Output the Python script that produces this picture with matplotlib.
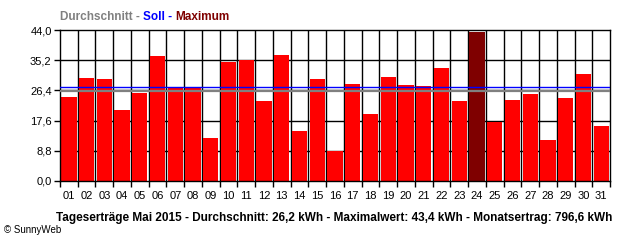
import numpy as np
import matplotlib.pyplot as plt

days = ["%02d" % d for d in range(1, 32)]
ertrag = [24.4, 30.0, 29.7, 20.6, 25.7, 36.5, 27.3, 27.0, 12.4, 34.7,
          35.2, 23.2, 36.7, 14.5, 29.7, 8.6, 28.2, 19.5, 30.3, 27.9,
          27.6, 32.9, 23.2, 43.4, 17.2, 23.5, 25.4, 12.0, 24.1, 31.1, 16.0]
durchschnitt = 26.2
soll = 27.4
yticks = [0.0, 8.8, 17.6, 26.4, 35.2, 44.0]

plt.rcParams['font.family'] = ['Liberation Sans', 'DejaVu Sans']

fig = plt.figure(figsize=(6.4, 2.4), dpi=100)
ax = fig.add_axes([60 / 640, 1 - 181 / 240, 550 / 640, 151 / 240])

x = np.arange(1, 32)
colors = ['#ff0000'] * 31
colors[int(np.argmax(ertrag))] = '#7f0000'
ax.set_axisbelow(True)
ax.bar(x, ertrag, width=0.86, color=colors, zorder=2)
ax.axhline(soll, color='#0000ff', lw=1.0, zorder=3)
ax.axhline(durchschnitt, color='#808080', lw=1.6, zorder=3)

ax.set_xlim(0.5, 31.5)
ax.set_ylim(0, 44)
ax.set_yticks(yticks)
ax.set_yticklabels([("%.1f" % v).replace('.', ',') for v in yticks], fontsize=8)
ax.set_xticks(x)
ax.set_xticklabels(days, fontsize=8)
ax.tick_params(axis='x', length=0, pad=7)
ax.set_xticks(np.arange(0.5, 32, 1), minor=True)
ax.tick_params(axis='x', which='minor', length=4, width=1, direction='out', color='black')
ax.tick_params(axis='y', length=4, width=1, direction='out', pad=2)
for v in np.arange(1.5, 31.5, 1):
    ax.axvline(v, color='black', lw=1, zorder=1)
for v in yticks[1:-1]:
    ax.axhline(v, color='black', lw=1, zorder=1)
for s in ax.spines.values():
    s.set_color('black')
    s.set_linewidth(1)

# legend line at the top, pieces placed one after another
renderer = fig.canvas.get_renderer()
xpos = 60
pieces = [("Durchschnitt - ", '#808080'), ("Soll - ", '#0000ff'), ("Maximum", '#7f0000')]
for txt, col in pieces:
    t = fig.text(xpos / 640, 1 - 17 / 240, txt, color=col, fontsize=8.5,
                 fontweight='bold', va='center')
    xpos += t.get_window_extent(renderer).width

fig.text(334 / 640, 1 - 218 / 240,
         "Tageserträge Mai 2015 - Durchschnitt: 26,2 kWh - Maximalwert: 43,4 kWh - Monatsertrag: 796,6 kWh",
         fontsize=8.5, fontweight='bold', ha='center', va='center')
fig.text(4 / 640, 1 - 230 / 240, "© SunnyWeb", fontsize=7, va='center')

fig.savefig("out.png", dpi=100)
